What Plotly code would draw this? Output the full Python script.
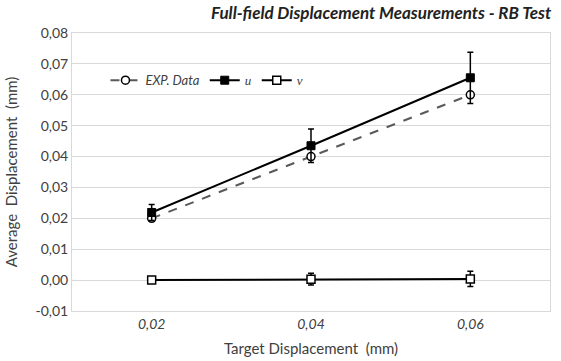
import plotly.graph_objects as go

categories = ["0,02", "0,04", "0,06"]
exp_data = [0.020, 0.040, 0.060]
u_vals = [0.0219, 0.0435, 0.0655]
u_err = [0.0026, 0.0054, 0.0083]
v_vals = [0.0000, 0.0003, 0.0004]
v_err = [0.0004, 0.0019, 0.0025]
y_ticks = [-0.01, 0.0, 0.01, 0.02, 0.03, 0.04, 0.05, 0.06, 0.07, 0.08]
y_ticklabels = ["-0,01", "0,00", "0,01", "0,02", "0,03", "0,04", "0,05", "0,06", "0,07", "0,08"]

xpos = list(range(len(categories)))
font = "Lato, Open Sans, sans-serif"

fig = go.Figure()
fig.add_trace(go.Scatter(
    x=xpos, y=exp_data, mode="lines+markers",
    name="<i>EXP. Data</i>",
    line=dict(color="#595959", width=2, dash="dash"),
    marker=dict(symbol="circle", size=8, color="white", line=dict(color="black", width=1.5)),
))
fig.add_trace(go.Scatter(
    x=xpos, y=u_vals, mode="lines+markers",
    name="<span style='font-family:Liberation Serif'><i>u</i></span>",
    line=dict(color="black", width=2),
    marker=dict(symbol="square", size=8, color="black", line=dict(color="black", width=1)),
    error_y=dict(type="data", array=u_err, color="black", thickness=1.5, width=3),
))
fig.add_trace(go.Scatter(
    x=xpos, y=v_vals, mode="lines+markers",
    name="<span style='font-family:Liberation Serif'><i>v</i></span>",
    line=dict(color="black", width=2),
    marker=dict(symbol="square", size=8, color="white", line=dict(color="black", width=1.5)),
    error_y=dict(type="data", array=v_err, color="black", thickness=1.5, width=3),
))

fig.update_layout(
    width=561, height=361,
    margin=dict(l=72, r=11, t=33, b=50, autoexpand=False),
    paper_bgcolor="white", plot_bgcolor="white",
    font=dict(family=font, size=13, color="#404040"),
    legend=dict(
        orientation="h", x=0.07, y=0.83, xanchor="left", yanchor="middle",
        bgcolor="rgba(0,0,0,0)", font=dict(family=font, size=13, color="#404040"),
        itemwidth=30, tracegroupgap=0,
    ),
    showlegend=True,
    annotations=[dict(
        text="<b><i>Full-field Displacement Measurements - RB Test</i></b>",
        xref="paper", x=1.0, xanchor="right", xshift=4,
        yref="paper", y=1.0, yanchor="middle", yshift=21,
        showarrow=False, font=dict(family=font, size=17, color="#222222"),
    )],
)
fig.update_xaxes(
    range=[-0.5, 2.5], tickmode="array", tickvals=xpos,
    ticktext=["<i>%s</i>" % c for c in categories],
    showgrid=False, zeroline=False, ticks="", automargin=False,
    showline=True, linecolor="#d9d9d9", linewidth=1, mirror=True,
    tickfont=dict(family=font, size=14, color="#404040"),
    title=dict(text="Target Displacement  (mm)", font=dict(family=font, size=15, color="#404040"), standoff=12),
)
fig.update_yaxes(
    range=[-0.01, 0.08], tickmode="array", tickvals=y_ticks, ticktext=y_ticklabels,
    showgrid=True, gridcolor="#d9d9d9", gridwidth=1, zeroline=False, ticks="", automargin=False,
    showline=True, linecolor="#d9d9d9", linewidth=1, mirror=True,
    tickfont=dict(family=font, size=14, color="#404040"),
    title=dict(text="Average  Displacement  (mm)", font=dict(family=font, size=15, color="#404040"), standoff=14),
)

fig.write_html("out.html", config={"displayModeBar": False},
               post_script="document.body.style.margin='0';document.body.style.overflow='hidden';")
